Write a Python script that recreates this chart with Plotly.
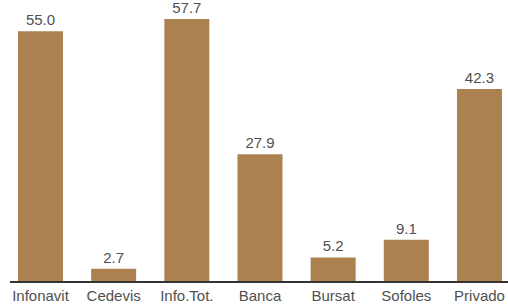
import plotly.graph_objects as go

categories = ["Infonavit", "Cedevis", "Info.Tot.", "Banca", "Bursat", "Sofoles", "Privado"]
values = [55.0, 2.7, 57.7, 27.9, 5.2, 9.1, 42.3]
labels = [f"{v:.1f}" for v in values]

FONT = "Liberation Sans, Arial, sans-serif"
fig = go.Figure(go.Bar(
    x=categories, y=values, text=labels, textposition="outside",
    marker=dict(color="#AC8150", line=dict(width=0)),
    width=0.615, cliponaxis=False,
    textfont=dict(family=FONT, size=15, color="#505050"),
))
fig.update_layout(
    width=508, height=306,
    margin=dict(l=10, r=0, t=0, b=25),
    paper_bgcolor="white", plot_bgcolor="white",
    showlegend=False,
    font=dict(family=FONT, size=15, color="#505050"),
)
fig.update_xaxes(range=[-0.417, 6.39], showline=True, linecolor="#333333", linewidth=1.5,
                 ticks="", showgrid=False, tickfont=dict(size=15, color="#505050"))
fig.update_yaxes(range=[0, 61.9], visible=False, showgrid=False)
fig.write_html("out.html", config={"displayModeBar": False},
               post_script="document.body.style.margin='0';document.body.style.overflow='hidden';")
